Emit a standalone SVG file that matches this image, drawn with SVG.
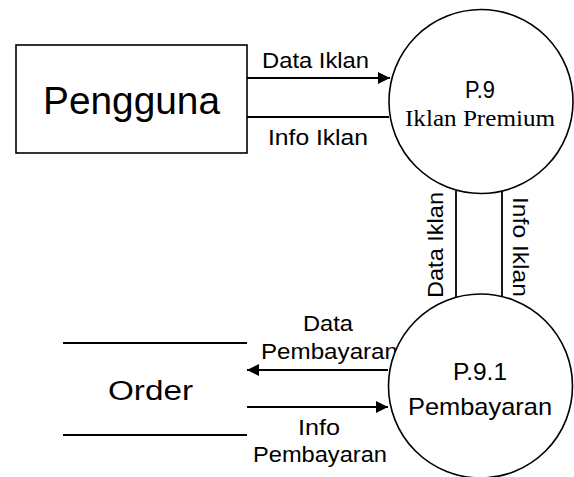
<svg xmlns="http://www.w3.org/2000/svg" width="574" height="477" viewBox="0 0 574 477">
<defs>
<marker id="arr" viewBox="0 0 12 12" refX="12" refY="6" markerWidth="12" markerHeight="12" markerUnits="userSpaceOnUse" orient="auto">
<path d="M0,0 L12,6 L0,12 Z" fill="#000"/>
</marker>
<style>
.shape{fill:#fff;stroke:#000;stroke-width:1.6}
.ln{fill:none;stroke:#000;stroke-width:1.8}
.t{font-family:"Liberation Sans",Arial,sans-serif;fill:#000}
.s{font-family:"Liberation Serif","Times New Roman",serif;fill:#000}
</style>
</defs>
<rect width="574" height="477" fill="#fff"/>
<g id="connectors">
<line class="ln" x1="247" y1="78" x2="390" y2="78" marker-end="url(#arr)"/>
<line class="ln" x1="247" y1="117" x2="389" y2="117"/>
<line class="ln" x1="456" y1="191" x2="456" y2="298"/>
<line class="ln" x1="502" y1="191" x2="502" y2="298"/>
<line class="ln" x1="388" y1="370" x2="247" y2="370" marker-end="url(#arr)"/>
<line class="ln" x1="247" y1="407" x2="388" y2="407" marker-end="url(#arr)"/>
<text class="t" x="262" y="68" font-size="22" textLength="107" lengthAdjust="spacingAndGlyphs">Data Iklan</text>
<text class="t" x="268" y="145" font-size="22" textLength="100" lengthAdjust="spacingAndGlyphs">Info Iklan</text>
<text class="t" transform="translate(443,298) rotate(-90)" font-size="22" textLength="106" lengthAdjust="spacingAndGlyphs">Data Iklan</text>
<text class="t" transform="translate(513,197) rotate(90)" font-size="22" textLength="100" lengthAdjust="spacingAndGlyphs">Info Iklan</text>
<text class="t" x="303" y="331" font-size="22" textLength="50" lengthAdjust="spacingAndGlyphs">Data</text>
<text class="t" x="261" y="359" font-size="22" textLength="137" lengthAdjust="spacingAndGlyphs">Pembayaran</text>
<text class="t" x="298" y="435" font-size="22" textLength="42" lengthAdjust="spacingAndGlyphs">Info</text>
<text class="t" x="253" y="462" font-size="22" textLength="134" lengthAdjust="spacingAndGlyphs">Pembayaran</text>
</g>
<g id="pengguna">
<rect class="shape" x="16" y="45" width="231" height="108" stroke-width="2"/>
<text class="t" x="43" y="114" font-size="39" textLength="177" lengthAdjust="spacingAndGlyphs">Pengguna</text>
</g>
<g id="p9">
<circle class="shape" cx="481" cy="101.5" r="92"/>
<text class="t" x="465" y="98" font-size="23" textLength="30" lengthAdjust="spacingAndGlyphs">P.9</text>
<text class="s" x="405" y="126" font-size="24" textLength="150" lengthAdjust="spacingAndGlyphs">Iklan Premium</text>
</g>
<g id="p91">
<circle class="shape" cx="480.5" cy="386" r="92"/>
<text class="t" x="453" y="380" font-size="24" textLength="54" lengthAdjust="spacingAndGlyphs">P.9.1</text>
<text class="t" x="408" y="415" font-size="24" textLength="144" lengthAdjust="spacingAndGlyphs">Pembayaran</text>
</g>
<g id="order">
<line class="ln" x1="63" y1="343" x2="247" y2="343"/>
<line class="ln" x1="63" y1="435" x2="247" y2="435"/>
<text class="t" x="108" y="400" font-size="27" textLength="85" lengthAdjust="spacingAndGlyphs">Order</text>
</g>
</svg>
